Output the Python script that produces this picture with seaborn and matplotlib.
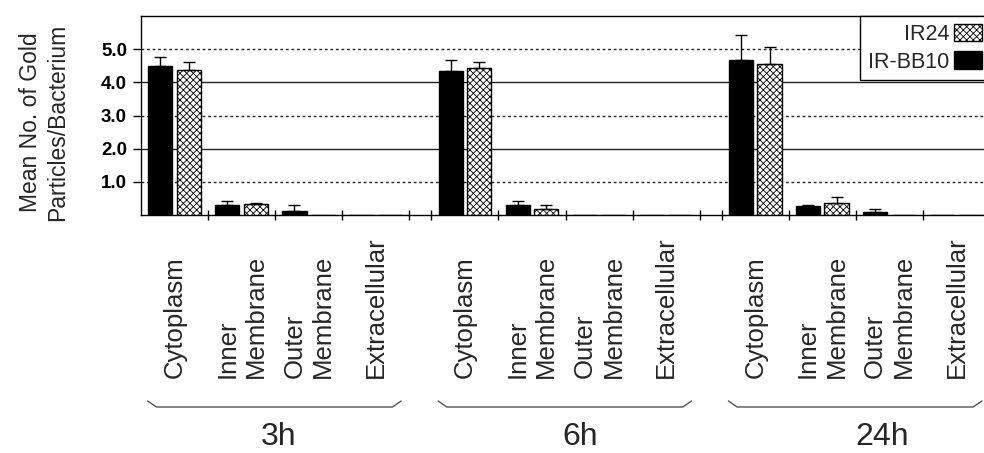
import numpy as np
import pandas as pd
import matplotlib
matplotlib.use("Agg")
import matplotlib.pyplot as plt
import matplotlib.transforms as mtransforms
from matplotlib.patches import Patch
import seaborn as sns

# ---------------- data ----------------
time_points = ["3h", "6h", "24h"]
compartments = ["Cytoplasm", "Inner\nMembrane", "Outer\nMembrane", "Extracellular"]
strains = ["IR-BB10", "IR24"]

# values per (time point, compartment), in order 3h x4, 6h x4, 24h x4
bb10_mean = [4.48, 0.31, 0.13, 0.0,  4.35, 0.31, 0.0, 0.0,  4.67, 0.26, 0.08, 0.0]
bb10_err  = [0.28, 0.10, 0.18, 0.0,  0.32, 0.11, 0.0, 0.0,  0.75, 0.05, 0.10, 0.0]
ir24_mean = [4.37, 0.32, 0.0, 0.0,   4.44, 0.18, 0.0, 0.0,  4.55, 0.37, 0.0, 0.0]
ir24_err  = [0.23, 0.04, 0.0, 0.0,   0.16, 0.13, 0.0, 0.0,  0.53, 0.18, 0.0, 0.0]
y_ticks = [1, 2, 3, 4, 5]

# ---------------- layout ----------------
GROUP_STEP = 4.33
rows = []
for g, tp in enumerate(time_points):
    for i, comp in enumerate(compartments):
        k = g * len(compartments) + i
        pos = g * GROUP_STEP + i
        rows.append(dict(time=tp, compartment=comp, pos=pos, strain="IR-BB10",
                         mean=bb10_mean[k], err=bb10_err[k]))
        rows.append(dict(time=tp, compartment=comp, pos=pos, strain="IR24",
                         mean=ir24_mean[k], err=ir24_err[k]))
df = pd.DataFrame(rows)

sns.set_theme(style="white")
plt.rcParams["font.family"] = ["Liberation Sans", "DejaVu Sans"]
plt.rcParams["hatch.linewidth"] = 0.6
plt.rcParams["hatch.color"] = "black"

W, H = 984, 453
fig = plt.figure(figsize=(W / 100, H / 100), dpi=100)
ax = fig.add_axes([141 / W, 1 - 215 / H, 849 / W, 199 / H])

sns.barplot(data=df, x="pos", y="mean", hue="strain", hue_order=strains,
            native_scale=True, width=0.85, gap=0.15,
            palette={"IR-BB10": "black", "IR24": "white"},
            edgecolor="black", linewidth=1, errorbar=None, legend=False,
            ax=ax, zorder=3)

hatch = "xxxxx"
for bar in ax.containers[1]:
    bar.set_hatch(hatch)

# one-sided error bars
for container, strain in zip(ax.containers, strains):
    sub = df[df["strain"] == strain]
    for patch in container:
        cx = patch.get_x() + patch.get_width() / 2
        row = sub.iloc[(sub["pos"] - cx).abs().argsort().iloc[0]]
        if row["err"] > 0:
            ax.errorbar(cx, row["mean"], yerr=[[0], [row["err"]]], fmt="none",
                        ecolor="black", elinewidth=1, capsize=4.5, capthick=1, zorder=4)

# gridlines
for v in y_ticks:
    if v % 2 == 0:
        ax.axhline(v, color="#222222", lw=1.0, zorder=1)
    else:
        ax.axhline(v, color="#222222", lw=1.0, ls=(0, (2, 2)), zorder=1)

ax.set_ylim(0, 6)
ax.set_xlim(-0.5, 12.08)
ax.set_yticks(y_ticks)
ax.set_yticklabels([f"{v:.1f}" for v in y_ticks], fontsize=13.5, fontweight="bold")
ax.tick_params(axis="y", direction="out", length=6, width=1, pad=4, left=True, colors="black")

# x ticks at category boundaries
bounds = []
for g in range(len(time_points)):
    start = g * GROUP_STEP
    if g > 0:
        bounds.append(start - 0.5)
    for i in range(len(compartments)):
        bounds.append(start + i + 0.5)
ax.set_xticks(bounds)
ax.set_xticklabels([""] * len(bounds))
ax.tick_params(axis="x", direction="inout", length=7, width=1, bottom=True, colors="black")
ax.set_xlabel("")
ax.set_ylabel("")
for s in ax.spines.values():
    s.set_color("black")
    s.set_linewidth(1)

# category labels, braces and time labels
blend = mtransforms.blended_transform_factory(ax.transData, fig.transFigure)
for g, tp in enumerate(time_points):
    start = g * GROUP_STEP
    for i, comp in enumerate(compartments):
        ax.text(start + i, 1 - 378 / H, comp, transform=blend, rotation=90,
                ha="center", va="bottom", multialignment="left",
                fontsize=18.5, linespacing=1.25, clip_on=False)
    ax.plot([start - 0.40, start - 0.27, start + 3.25, start + 3.38],
            [1 - 401 / H, 1 - 407 / H, 1 - 407 / H, 1 - 401 / H],
            transform=blend, color="#555555", lw=1, clip_on=False)
    ax.text(start + 1.55 + 0.17 * g, 1 - 437 / H, tp, transform=blend,
            ha="center", va="center", fontsize=23, clip_on=False)

fig.text(44 / W, 1 - 122 / H, "Mean No. of Gold\nParticles/Bacterium", rotation=90,
         ha="center", va="center", fontsize=16.5, linespacing=1.2)

handles = [Patch(facecolor="white", edgecolor="black", hatch=hatch, label="IR24"),
           Patch(facecolor="black", edgecolor="black", label="IR-BB10")]
leg = ax.legend(handles=handles, loc="upper right", bbox_to_anchor=(1, 1),
                borderaxespad=0, markerfirst=False, frameon=True, fancybox=False,
                edgecolor="black", framealpha=1, fontsize=15.5, handlelength=1.3,
                handleheight=0.9, labelspacing=0.3, borderpad=0.35, handletextpad=0.25)
leg.get_frame().set_linewidth(1)
leg.set_zorder(10)

fig.savefig("out.png", dpi=100)
